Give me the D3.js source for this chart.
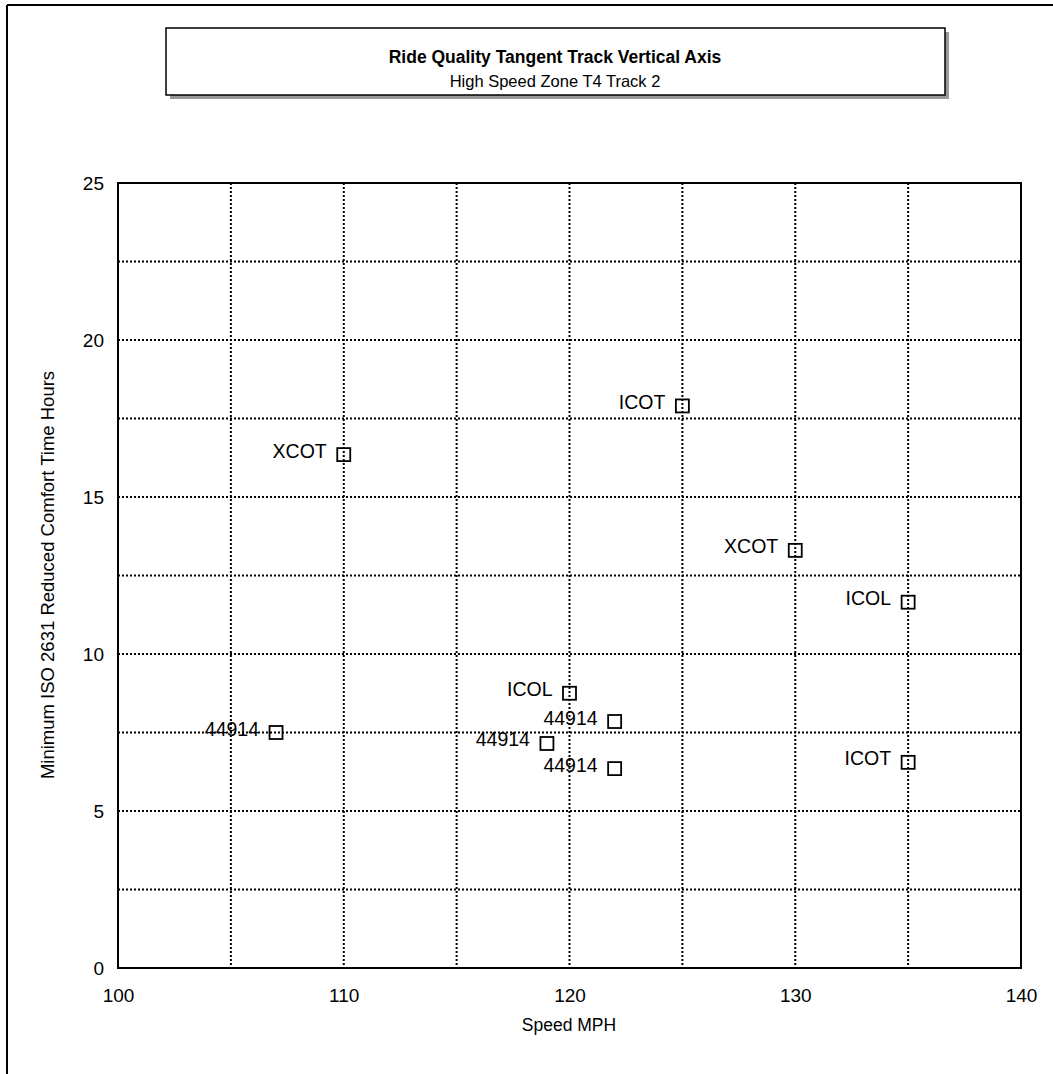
<!DOCTYPE html>
<html><head><meta charset="utf-8">
<script src="https://cdn.jsdelivr.net/npm/d3@7"></script>
<style>body{margin:0;background:#fff}svg{display:block}text{font-family:"Liberation Sans",Arial,sans-serif;fill:#000}</style>
</head><body>
<script>
const labels = ["44914","XCOT","ICOT","XCOT","ICOL","ICOL","44914","44914","44914","ICOT"];
const speeds = [107,110,125,130,135,120,122,119,122,135];
const hours  = [7.5,16.35,17.9,13.3,11.65,8.75,7.85,7.15,6.35,6.55];
const xTicks = [100,110,120,130,140];
const yTicks = [0,5,10,15,20,25];
const xGrid = [105,110,115,120,125,130,135];
const yGrid = [2.5,5,7.5,10,12.5,15,17.5,20,22.5];

const W=1053,H=1074;
const FF="'Liberation Sans',Arial,sans-serif";
const svg=d3.select("body").append("svg").attr("width",W).attr("height",H);
const L=118,R=1021,T=183,B=968;
const x=d3.scaleLinear().domain([100,140]).range([L,R]);
const y=d3.scaleLinear().domain([0,25]).range([B,T]);

// outer frame (top and left)
svg.append("line").attr("x1",7).attr("x2",W).attr("y1",5).attr("y2",5).attr("stroke","#000").attr("stroke-width",2);
svg.append("line").attr("x1",7).attr("x2",7).attr("y1",5).attr("y2",H).attr("stroke","#000").attr("stroke-width",2);

// title box with shadow
svg.append("rect").attr("x",170).attr("y",32).attr("width",779).attr("height",67).attr("fill","#999");
svg.append("rect").attr("x",166).attr("y",28).attr("width",779).attr("height",67).attr("fill","#fff").attr("stroke","#000").attr("stroke-width",1.5);
svg.append("text").attr("x",555).attr("y",63).attr("text-anchor","middle").attr("font-size",17.5).attr("font-weight","bold").text("Ride Quality Tangent Track Vertical Axis");
svg.append("text").attr("x",555).attr("y",87).attr("text-anchor","middle").attr("font-size",16.5).text("High Speed Zone T4 Track 2");

// grid
const g=svg.append("g");
g.selectAll("line.vg").data(xGrid).join("line").attr("class","vg")
 .attr("x1",d=>x(d)).attr("x2",d=>x(d)).attr("y1",T).attr("y2",B)
 .attr("stroke","#000").attr("stroke-width",2).attr("stroke-dasharray","2,2");
g.selectAll("line.hg").data(yGrid).join("line").attr("class","hg")
 .attr("x1",L).attr("x2",R).attr("y1",d=>y(d)).attr("y2",d=>y(d))
 .attr("stroke","#000").attr("stroke-width",2).attr("stroke-dasharray","2,2");

// plot frame
svg.append("rect").attr("x",L).attr("y",T).attr("width",R-L).attr("height",B-T).attr("fill","none").attr("stroke","#000").attr("stroke-width",2);

// axes
const xa=svg.append("g").attr("transform",`translate(0,${B})`)
 .call(d3.axisBottom(x).tickValues(xTicks).tickSize(0).tickPadding(21).tickFormat(d3.format("d")));
xa.select(".domain").remove();
xa.selectAll("text").attr("font-size",19).attr("font-family",FF);
const ya=svg.append("g").attr("transform",`translate(${L},0)`)
 .call(d3.axisLeft(y).tickValues(yTicks).tickSize(0).tickPadding(14).tickFormat(d3.format("d")));
ya.select(".domain").remove();
ya.selectAll("text").attr("font-size",19).attr("font-family",FF);

svg.append("text").attr("x",569).attr("y",1031).attr("text-anchor","middle").attr("font-size",17.5).text("Speed MPH");
svg.append("text").attr("transform",`translate(54,${575}) rotate(-90)`).attr("text-anchor","middle").attr("font-size",18.5).text("Minimum ISO 2631 Reduced Comfort Time Hours");

// points
const pts=speeds.map((s,i)=>({s,h:hours[i],l:labels[i]}));
svg.selectAll("rect.pt").data(pts).join("rect").attr("class","pt")
 .attr("x",d=>x(d.s)-6.5).attr("y",d=>y(d.h)-6.5).attr("width",13).attr("height",13)
 .attr("fill","none").attr("stroke","#000").attr("stroke-width",1.8);
svg.selectAll("text.pl").data(pts).join("text").attr("class","pl")
 .attr("x",d=>x(d.s)-17).attr("y",d=>y(d.h)+3).attr("text-anchor","end").attr("font-size",19.5).text(d=>d.l);
</script>
</body></html>
